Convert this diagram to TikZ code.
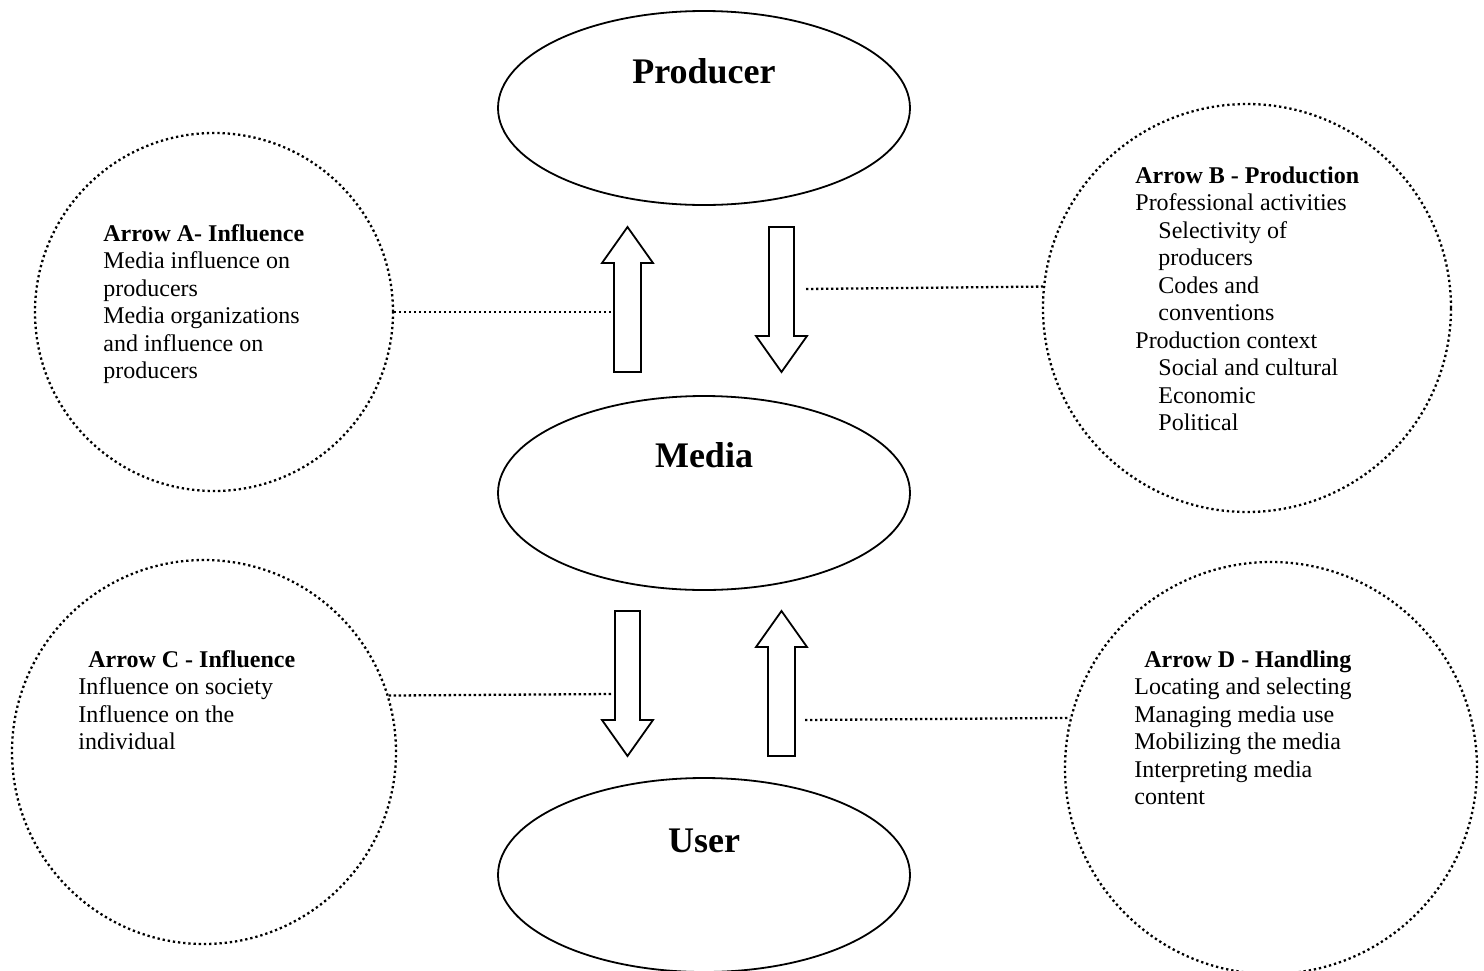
\documentclass[tikz,border=0pt]{standalone}
\usepackage{fontspec}
\setmainfont{Liberation Serif}
\usetikzlibrary{shapes.geometric}
\begin{document}
\begin{tikzpicture}[x=0.5pt,y=-0.5pt,
  bigell/.style={draw, line width=0.9pt, ellipse, minimum width=206pt, minimum height=97pt, inner sep=0pt},
  bigtxt/.style={font=\fontsize{18}{21}\selectfont\bfseries, inner sep=0pt, anchor=base},
  dotcirc/.style={draw, circle, line width=1.15pt, dash pattern=on 1.15pt off 1.45pt, inner sep=0pt},
  dotline/.style={line width=1.15pt, dash pattern=on 1.15pt off 1.35pt},
  txt/.style={font=\fontsize{12}{13.75}\selectfont, inner sep=0pt, anchor=base west},
  blockarrow/.style={draw, line width=0.9pt, fill=white, line join=miter},
  uparrow/.pic={\path[blockarrow] (-13.5,0) -- (-13.5,-109) -- (-25.5,-109) -- (0,-145) -- (25.5,-109) -- (13.5,-109) -- (13.5,0) -- cycle;},
  downarrow/.pic={\path[blockarrow] (-12.5,0) -- (-12.5,109) -- (-25.5,109) -- (0,145) -- (25.5,109) -- (12.5,109) -- (12.5,0) -- cycle;}
]
\useasboundingbox (0,0) rectangle (1484,970);

% main ellipses
\node[bigell] (producer) at (704,108) {};
\node[bigtxt] (producerlbl) at (704,83) {Producer};
\node[bigell] (media) at (704,493) {};
\node[bigtxt] (medialbl) at (704,467) {Media};
\node[bigell] (user) at (704,875) {};
\node[bigtxt] (userlbl) at (704,852) {User};

% block arrows
\pic at (627.5,372) {uparrow};
\pic at (781.5,227) {downarrow};
\pic at (627.5,611) {downarrow};
\pic at (781.5,756) {uparrow};

% dotted circles
\node[dotcirc, minimum size=179pt] (circA) at (214,312) {};
\node[dotcirc, minimum size=204pt] (circB) at (1247,308) {};
\node[dotcirc, minimum size=192pt] (circC) at (204,752) {};
\node[dotcirc, minimum size=206pt] (circD) at (1271,768) {};

% connector end points at the arrows
\coordinate (endA) at (611,312);
\coordinate (endB) at (806,289);
\coordinate (endC) at (611,694);
\coordinate (endD) at (805,720);

\draw[dotline] (circA.east) -- (endA);
\draw[dotline] (endB) -- (circB.174.7);
\draw[dotline] (circC.17.6) -- (endC);
\draw[dotline] (endD) -- (circD.166.5);

% texts
\node[txt] (textA) at (103,241) {\begin{tabular}[t]{@{}l@{}}\textbf{Arrow A- Influence}\\
Media influence on\\ producers\\ Media organizations\\ and influence on\\ producers\end{tabular}};

\node[txt] (textB) at (1135,183) {\begin{tabular}[t]{@{}l@{}}\textbf{Arrow B - Production}\\
Professional activities\\
\hspace*{11.5pt}Selectivity of\\
\hspace*{11.5pt}producers\\
\hspace*{11.5pt}Codes and\\
\hspace*{11.5pt}conventions\\
Production context\\
\hspace*{11.5pt}Social and cultural\\
\hspace*{11.5pt}Economic\\
\hspace*{11.5pt}Political\end{tabular}};

\node[txt] (textC) at (78,667) {\begin{tabular}[t]{@{}l@{}}\hspace*{5pt}\textbf{Arrow C - Influence}\\
Influence on society\\ Influence on the\\ individual\end{tabular}};

\node[txt] (textD) at (1134,667) {\begin{tabular}[t]{@{}l@{}}\hspace*{5pt}\textbf{Arrow D - Handling}\\
Locating and selecting\\ Managing media use\\ Mobilizing the media\\ Interpreting media\\ content\end{tabular}};
\end{tikzpicture}
\end{document}
